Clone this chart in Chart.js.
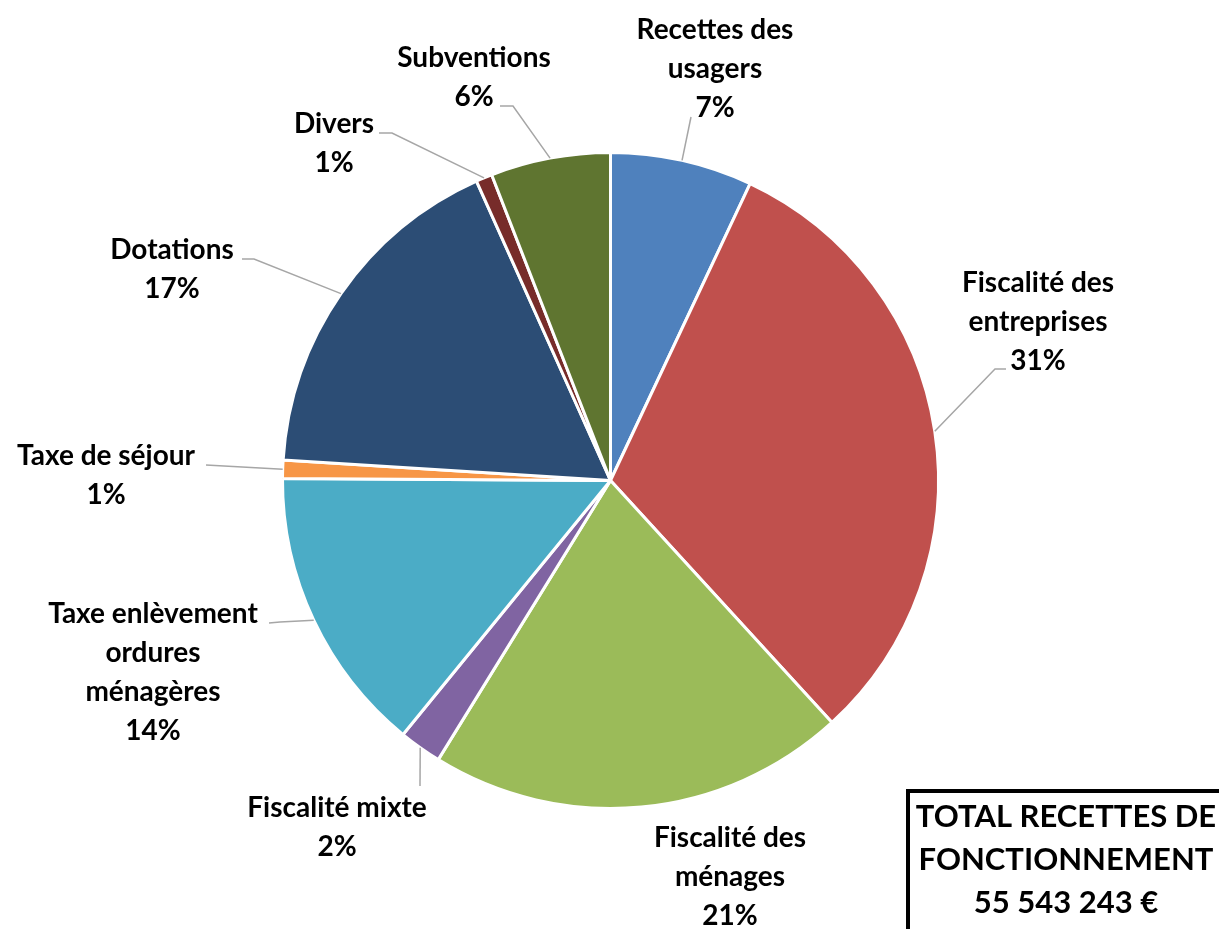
<!DOCTYPE html>
<html>
<head>
<meta charset="utf-8">
<script src="https://cdn.jsdelivr.net/npm/chart.js@4.4.0/dist/chart.umd.min.js"></script>
<style>
  html, body { margin: 0; padding: 0; background: #fff; overflow: hidden; }
  #wrap { position: relative; width: 1219px; height: 929px; }
</style>
</head>
<body>
<div id="wrap"><canvas id="myChart"></canvas></div>
<script>
// data (share of total, %)
var categories = [
    ['Recettes des', 'usagers'],
    ['Fiscalité des', 'entreprises'],
    ['Fiscalité des', 'ménages'],
    ['Fiscalité mixte'],
    ['Taxe enlèvement', 'ordures', 'ménagères'],
    ['Taxe de séjour'],
    ['Dotations'],
    ['Divers'],
    ['Subventions']
];
var shares = [7.0, 31.2, 20.6, 2.1, 14.2, 0.9, 17.3, 0.8, 5.9];
var colors = ['#4F81BD', '#C0504D', '#9BBB59', '#8064A2', '#4BACC6', '#F79646', '#2C4D75', '#772C2A', '#5F7530'];
var totalLines = ['TOTAL RECETTES DE', 'FONCTIONNEMENT', '55 543 243 €'];

// label placement: text centre x, first baseline, leader bends (after the point on the pie)
var labelPos = [
    { x: 715,  y: 38.5,  bends: [[691, 117]] },
    { x: 1038, y: 291.5, bends: [[995, 369], [1006, 369]] },
    { x: 730,  y: 847,   bends: [] },
    { x: 337,  y: 816.5, bends: [[420, 786]] },
    { x: 153,  y: 623,   bends: [[280, 622], [269, 623]] },
    { x: 106,  y: 465,   bends: [[206, 465]] },
    { x: 172,  y: 259,   bends: [[254, 259], [242, 259]] },
    { x: 334,  y: 133,   bends: [[392, 133], [379, 133]] },
    { x: 474,  y: 67,    bends: [[513, 106], [500, 106]] }
];

var outsideLabels = {
    id: 'outsideLabels',
    afterDraw: function(chart) {
        var ctx = chart.ctx;
        var meta = chart.getDatasetMeta(0);
        ctx.save();
        meta.data.forEach(function(arc, i) {
            var p = arc.getProps(['x', 'y', 'startAngle', 'endAngle', 'outerRadius'], true);
            var mid = (p.startAngle + p.endAngle) / 2;
            var ax = p.x + Math.cos(mid) * p.outerRadius;
            var ay = p.y + Math.sin(mid) * p.outerRadius;
            var pos = labelPos[i];
            if (pos.bends.length) {
                ctx.beginPath();
                ctx.strokeStyle = '#A6A6A6';
                ctx.lineWidth = 1.5;
                ctx.moveTo(ax, ay);
                pos.bends.forEach(function(b) { ctx.lineTo(b[0], b[1]); });
                ctx.stroke();
            }
            var lines = categories[i].concat([Math.round(shares[i]) + '%']);
            ctx.fillStyle = '#000';
            ctx.font = 'bold 28px Lato';
            ctx.textAlign = 'center';
            ctx.textBaseline = 'alphabetic';
            lines.forEach(function(t, k) {
                ctx.fillText(t, pos.x, pos.y + k * 39);
            });
        });

        // total box
        ctx.beginPath();
        ctx.strokeStyle = '#000';
        ctx.lineWidth = 4;
        ctx.moveTo(908, 929);
        ctx.lineTo(908, 791);
        ctx.lineTo(1219, 791);
        ctx.stroke();
        ctx.font = 'bold 31px Lato';
        ctx.textAlign = 'center';
        totalLines.forEach(function(t, k) {
            ctx.fillText(t, 1066, 827 + k * 43);
        });
        ctx.restore();
    }
};

var ctx = document.getElementById('myChart').getContext('2d');
var chart = new Chart(ctx, {
    type: 'pie',
    data: {
        labels: categories,
        datasets: [{
            data: shares,
            backgroundColor: colors,
            borderColor: '#fff',
            borderWidth: 3
        }]
    },
    options: {
        responsive: true,
        maintainAspectRatio: false,
        animation: false,
        radius: 328,
        layout: { padding: { top: 32, left: 2, right: 0, bottom: 0 } },
        plugins: {
            legend: { display: false },
            tooltip: { enabled: false }
        }
    },
    plugins: [outsideLabels]
});
</script>
</body>
</html>
